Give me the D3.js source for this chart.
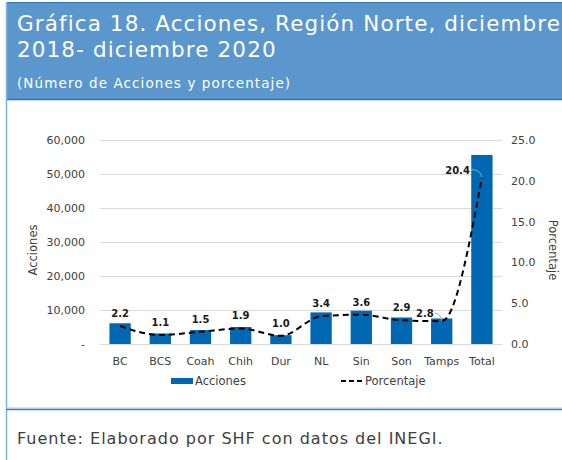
<!DOCTYPE html>
<html>
<head>
<meta charset="utf-8">
<script src="https://cdn.jsdelivr.net/npm/d3@7"></script>
<style>
  body { margin: 0; background: #fff; }
  svg { display: block; font-family: "DejaVu Sans", sans-serif; }
</style>
</head>
<body>
<div id="chart"></div>
<script>
const categories = ["BC", "BCS", "Coah", "Chih", "Dur", "NL", "Sin", "Son", "Tamps", "Total"];
const acciones = [6100, 3100, 4100, 5000, 2600, 9300, 9800, 7800, 7500, 55600];
const porcentaje = [2.2, 1.1, 1.5, 1.9, 1.0, 3.4, 3.6, 2.9, 2.8, 20.4];
const leftTicks = [0, 10000, 20000, 30000, 40000, 50000, 60000];
const rightTicks = [0, 5, 10, 15, 20, 25];

const width = 562, height = 460;
const svg = d3.select("#chart").append("svg")
  .attr("width", width).attr("height", height);

// frame and header
svg.append("rect").attr("x", 6).attr("y", 2).attr("width", width - 6).attr("height", 97)
  .attr("fill", "#5b97cd");
svg.append("line").attr("x1", 6).attr("x2", width).attr("y1", 2.5).attr("y2", 2.5)
  .attr("stroke", "#2e75b6").attr("stroke-width", 1);
svg.append("line").attr("x1", 6).attr("x2", width).attr("y1", 99.5).attr("y2", 99.5)
  .attr("stroke", "#2e75b6").attr("stroke-width", 1.5);
svg.append("line").attr("x1", 6.5).attr("x2", 6.5).attr("y1", 2).attr("y2", height)
  .attr("stroke", "#7fb2de").attr("stroke-width", 1.5);
svg.append("line").attr("x1", 6).attr("x2", width).attr("y1", 408).attr("y2", 408)
  .attr("stroke", "#a9cbe8").attr("stroke-width", 1);
svg.append("line").attr("x1", 6).attr("x2", width).attr("y1", 409.5).attr("y2", 409.5)
  .attr("stroke", "#3d84c2").attr("stroke-width", 1.5);

const header = svg.append("g").attr("fill", "#fff");
header.append("text").attr("x", 17).attr("y", 31).attr("font-size", 21.5)
  .attr("letter-spacing", 1.1)
  .text("Gráfica 18. Acciones, Región Norte, diciembre");
header.append("text").attr("x", 17).attr("y", 57).attr("font-size", 21.5)
  .attr("letter-spacing", 1.1)
  .text("2018- diciembre 2020");
header.append("text").attr("x", 17).attr("y", 88).attr("font-size", 13.5)
  .attr("letter-spacing", 1.1)
  .text("(Número de Acciones y porcentaje)");

svg.append("text").attr("x", 17).attr("y", 444).attr("font-size", 16).attr("fill", "#404040")
  .attr("letter-spacing", 1)
  .text("Fuente: Elaborado por SHF con datos del INEGI.");

// plot area
const plot = { left: 100, right: 502, top: 140, bottom: 344 };

const x = d3.scaleBand().domain(categories).range([plot.left, plot.right]).paddingInner(0.47).paddingOuter(0.235);
const y = d3.scaleLinear().domain([0, 60000]).range([plot.bottom, plot.top]);
const y2 = d3.scaleLinear().domain([0, 25]).range([plot.bottom, plot.top]);

svg.append("g").selectAll("line").data(leftTicks).join("line")
  .attr("x1", plot.left).attr("x2", plot.right)
  .attr("y1", d => y(d) + 0.5).attr("y2", d => y(d) + 0.5)
  .attr("stroke", "#d9d9d9").attr("stroke-width", 1);

const axisL = svg.append("g").attr("transform", `translate(${plot.left - 12},0)`)
  .call(d3.axisLeft(y).tickValues(leftTicks).tickSize(0)
    .tickFormat(d => d === 0 ? "-" : d3.format(",")(d)));
axisL.select(".domain").remove();
axisL.selectAll("text").attr("font-size", 11).attr("fill", "#404040")
  .attr("font-family", "DejaVu Sans, sans-serif");

const axisR = svg.append("g").attr("transform", `translate(${plot.right + 6},0)`)
  .call(d3.axisRight(y2).tickValues(rightTicks).tickSize(0).tickFormat(d3.format(".1f")));
axisR.select(".domain").remove();
axisR.selectAll("text").attr("font-size", 11).attr("fill", "#404040")
  .attr("font-family", "DejaVu Sans, sans-serif");

const axisB = svg.append("g").attr("transform", `translate(0,${plot.bottom + 10})`)
  .call(d3.axisBottom(x).tickSize(0));
axisB.select(".domain").remove();
axisB.selectAll("text").attr("font-size", 11).attr("fill", "#404040")
  .attr("font-family", "DejaVu Sans, sans-serif");

svg.append("text").attr("transform", `translate(37,${(plot.top + plot.bottom) / 2 + 8}) rotate(-90)`)
  .attr("text-anchor", "middle").attr("font-size", 11.5).attr("fill", "#404040").text("Acciones");
svg.append("text").attr("transform", `translate(549,${(plot.top + plot.bottom) / 2 + 8}) rotate(90)`)
  .attr("text-anchor", "middle").attr("font-size", 11.5).attr("fill", "#404040").text("Porcentaje");

// bars
svg.append("g").selectAll("rect").data(categories).join("rect")
  .attr("x", d => x(d)).attr("width", x.bandwidth())
  .attr("y", (d, i) => y(acciones[i])).attr("height", (d, i) => plot.bottom - y(acciones[i]))
  .attr("fill", "#0068b2");

// line
const pts = categories.map((c, i) => [x(c) + x.bandwidth() / 2, y2(porcentaje[i])]);
svg.append("path").datum(pts)
  .attr("d", d3.line().curve(d3.curveMonotoneX))
  .attr("fill", "none").attr("stroke", "#000").attr("stroke-width", 2)
  .attr("stroke-dasharray", "6,4");

// data labels
const labelOffset = { "Tamps": [-8, -4], "Total": [-12, -4] };
const labels = svg.append("g").attr("font-size", 10).attr("font-weight", "bold").attr("fill", "#1a1a1a")
  .attr("text-anchor", "middle");
categories.forEach((c, i) => {
  const [px, py] = pts[i];
  const off = labelOffset[c];
  if (off) {
    const lx = px + off[0], ly = py + off[1];
    labels.append("text").attr("x", lx).attr("y", ly)
      .attr("text-anchor", "end").text(d3.format(".1f")(porcentaje[i]));
    svg.append("path")
      .attr("d", `M${lx + 1},${ly - 4} Q${px - 1},${ly - 4} ${px},${py}`)
      .attr("fill", "none").attr("stroke", "#a6a6a6").attr("stroke-width", 1);
  } else {
    labels.append("text").attr("x", px).attr("y", py - 9)
      .text(d3.format(".1f")(porcentaje[i]));
  }
});

// legend
const legend = svg.append("g").attr("font-size", 11.5).attr("fill", "#404040");
legend.append("rect").attr("x", 171).attr("y", 378).attr("width", 22).attr("height", 6).attr("fill", "#0068b2");
legend.append("text").attr("x", 195).attr("y", 385).text("Acciones");
legend.append("line").attr("x1", 341).attr("x2", 362).attr("y1", 381).attr("y2", 381)
  .attr("stroke", "#000").attr("stroke-width", 2).attr("stroke-dasharray", "5,3");
legend.append("text").attr("x", 365).attr("y", 385).text("Porcentaje");
</script>
</body>
</html>
